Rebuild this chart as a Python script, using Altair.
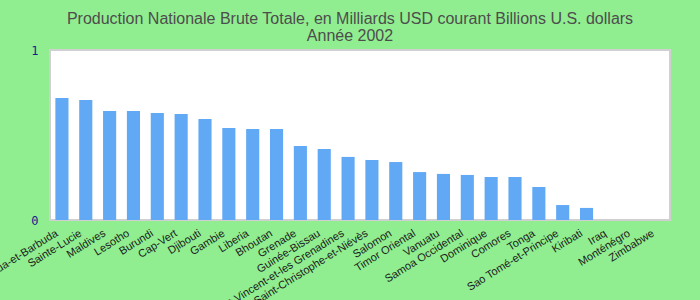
import altair as alt
import pandas as pd

countries = [
    "Antigua-et-Barbuda", "Sainte-Lucie", "Maldives", "Lesotho", "Burundi",
    "Cap-Vert", "Djibouti", "Gambie", "Liberia", "Bhoutan", "Grenade",
    "Guinée-Bissau", "Saint-Vincent-et-les Grenadines",
    "Saint-Christophe-et-Niévès", "Salomon", "Timor Oriental", "Vanuatu",
    "Samoa Occidental", "Dominique", "Comores", "Tonga",
    "Sao Tomé-et-Principe", "Kiribati", "Iraq", "Monténégro", "Zimbabwe",
]
values = [
    0.718, 0.706, 0.641, 0.641, 0.629, 0.624, 0.594, 0.541, 0.535, 0.535,
    0.435, 0.418, 0.371, 0.353, 0.341, 0.282, 0.271, 0.265, 0.253, 0.253,
    0.194, 0.088, 0.071, None, None, None,
]
y_ticks = [0, 1]

df = pd.DataFrame({"pays": countries, "valeur": values})

chart = (
    alt.Chart(df)
    .mark_bar(color="#62a9f5")
    .encode(
        x=alt.X(
            "pays:N",
            sort=None,
            title=None,
            scale=alt.Scale(domain=countries, paddingInner=0.45, paddingOuter=0.225),
            axis=alt.Axis(
                labelAngle=-32,
                labelFont="Liberation Sans",
                labelFontSize=11,
                labelColor="#1a1a1a",
                labelOverlap=False,
                labelPadding=7,
                labelOffset=-8,
                ticks=False,
                domain=False,
                labelLimit=300,
            ),
        ),
        y=alt.Y(
            "valeur:Q",
            title=None,
            scale=alt.Scale(domain=[0, 1], nice=False),
            axis=alt.Axis(
                values=y_ticks,
                format="d",
                grid=False,
                ticks=False,
                domain=False,
                labelFont="DejaVu Sans Mono",
                labelFontSize=12,
                labelColor="#1a1a8c",
                labelPadding=12,
            ),
        ),
        tooltip=["pays", "valeur"],
    )
    .properties(
        width=620,
        height=170,
        background="#90ee90",
        padding={"left": 50, "top": 50, "right": 30, "bottom": 80},
        autosize="none",
        title=alt.TitleParams(
            text=[
                "Production Nationale Brute Totale, en Milliards USD courant Billions U.S. dollars",
                "Année 2002",
            ],
            font="Liberation Sans",
            fontSize=16,
            fontWeight="normal",
            color="#4d4d4d",
            lineHeight=17,
            anchor="middle",
            dx=-10,
            offset=0,
        ),
    )
    .configure_view(fill="white", stroke="#d0d0d0", strokeWidth=2)
)

chart.save("out.html", embed_options={"renderer": "svg", "actions": False})
